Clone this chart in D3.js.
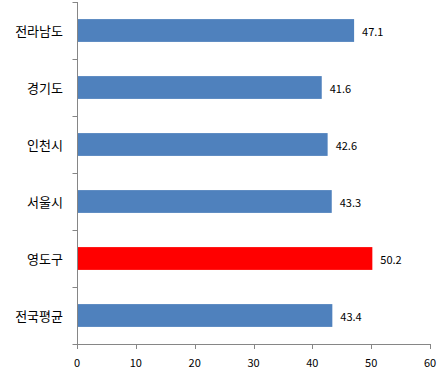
<!DOCTYPE html>
<html>
<head>
<meta charset="utf-8">
<script src="https://cdn.jsdelivr.net/npm/d3@7"></script>
<style>
  body { margin: 0; background: #fff; }
  text { font-family: "Noto Sans CJK KR", "DejaVu Sans", sans-serif; fill: #000; }
</style>
</head>
<body>
<div id="chart"></div>
<script>
const categories = ["전라남도", "경기도", "인천시", "서울시", "영도구", "전국평균"];
const values = [47.1, 41.6, 42.6, 43.3, 50.2, 43.4];
const highlight = "영도구";
const xTicks = [0, 10, 20, 30, 40, 50, 60];

const W = 447, H = 373;
const margin = { top: 2, right: 17, bottom: 29, left: 77 };
const svg = d3.select("#chart").append("svg").attr("width", W).attr("height", H);

const x = d3.scaleLinear().domain([0, 60]).range([margin.left, W - margin.right]);
const y = d3.scaleBand().domain(categories).range([margin.top, H - margin.bottom])
  .paddingInner(0.6).paddingOuter(0.3);

const axisColor = "#868686";

// bars
svg.selectAll(".bar").data(categories).enter().append("rect")
  .attr("x", x(0)).attr("y", d => y(d))
  .attr("width", (d, i) => x(values[i]) - x(0))
  .attr("height", y.bandwidth())
  .attr("fill", d => d === highlight ? "#FF0000" : "#4F81BD");

// value labels
svg.selectAll(".val").data(categories).enter().append("text")
  .attr("x", (d, i) => x(values[i]) + 8)
  .attr("y", d => y(d) + y.bandwidth() / 2)
  .attr("dominant-baseline", "central")
  .style("font-size", "11px")
  .text((d, i) => values[i].toFixed(1));

// x axis
const bottom = H - margin.bottom;
svg.append("line").attr("x1", x(0)).attr("x2", x(60)).attr("y1", bottom + 0.5).attr("y2", bottom + 0.5)
  .attr("stroke", axisColor);
svg.selectAll(".xt").data(xTicks).enter().append("line")
  .attr("x1", d => Math.round(x(d)) + 0.5).attr("x2", d => Math.round(x(d)) + 0.5)
  .attr("y1", bottom).attr("y2", bottom + 5).attr("stroke", axisColor);
svg.selectAll(".xl").data(xTicks).enter().append("text")
  .attr("x", d => x(d)).attr("y", bottom + 23)
  .attr("text-anchor", "middle").style("font-size", "11px")
  .text(d => d);

// y axis
const x0 = Math.round(x(0)) + 0.5;
svg.append("line").attr("x1", x0).attr("x2", x0).attr("y1", margin.top).attr("y2", bottom)
  .attr("stroke", axisColor);
const step = y.step();
const bounds = d3.range(categories.length + 1).map(i => margin.top + i * step);
svg.selectAll(".yt").data(bounds).enter().append("line")
  .attr("x1", x0 - 5).attr("x2", x0)
  .attr("y1", d => Math.round(d) + 0.5).attr("y2", d => Math.round(d) + 0.5)
  .attr("stroke", axisColor);
svg.selectAll(".yl").data(categories).enter().append("text")
  .attr("x", x(0) - 14).attr("y", d => y(d) + y.bandwidth() / 2)
  .attr("text-anchor", "end").attr("dominant-baseline", "central")
  .style("font-size", "13px")
  .text(d => d);
</script>
</body>
</html>
